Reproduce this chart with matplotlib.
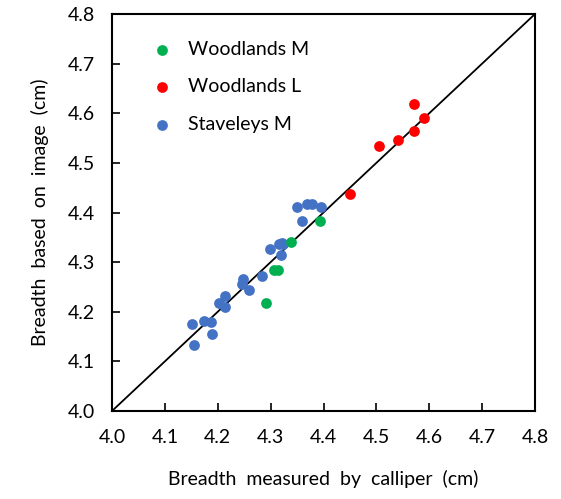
import matplotlib
matplotlib.use("Agg")
import matplotlib.pyplot as plt

plt.rcParams['font.family'] = ['Lato', 'DejaVu Sans']

# Data
wm_x = [4.393, 4.338, 4.307, 4.314, 4.291]
wm_y = [4.383, 4.341, 4.285, 4.285, 4.218]

wl_x = [4.571, 4.590, 4.571, 4.540, 4.505, 4.450]
wl_y = [4.619, 4.590, 4.564, 4.547, 4.535, 4.438]

sm_x = [4.349, 4.369, 4.378, 4.396, 4.360, 4.321, 4.324, 4.316, 4.299, 4.319,
        4.284, 4.248, 4.245, 4.260, 4.214, 4.202, 4.214, 4.151, 4.174, 4.187,
        4.190, 4.155]
sm_y = [4.412, 4.417, 4.417, 4.412, 4.383, 4.339, 4.336, 4.336, 4.327, 4.314,
        4.272, 4.265, 4.256, 4.243, 4.231, 4.218, 4.210, 4.176, 4.181, 4.180,
        4.155, 4.134]

ticks = [4.0, 4.1, 4.2, 4.3, 4.4, 4.5, 4.6, 4.7, 4.8]
tick_labels = ["4.0", "4.1", "4.2", "4.3", "4.4", "4.5", "4.6", "4.7", "4.8"]

fig = plt.figure(figsize=(5.61, 4.99), dpi=100)
ax = fig.add_axes([112/561, 1-411/499, (535-112)/561, (411-14)/499])

ax.plot([4.0, 4.8], [4.0, 4.8], color='black', lw=1.3, zorder=1)
ax.scatter(wm_x, wm_y, s=60, color='#00B050', label='Woodlands M', zorder=3, linewidths=0)
ax.scatter(wl_x, wl_y, s=60, color='#FF0000', label='Woodlands L', zorder=3, linewidths=0)
ax.scatter(sm_x, sm_y, s=60, color='#4472C4', label='Staveleys M', zorder=2, linewidths=0)

ax.set_xlim(4.0, 4.8)
ax.set_ylim(4.0, 4.8)
ax.set_xticks(ticks)
ax.set_xticklabels(tick_labels)
ax.set_yticks(ticks)
ax.set_yticklabels(tick_labels)
ax.tick_params(direction='in', length=6, width=1.2, labelsize=14, colors='black')
ax.tick_params(axis='x', pad=13)
ax.tick_params(axis='y', pad=12)
for s in ax.spines.values():
    s.set_linewidth(1.5)

ax.set_xlabel('Breadth  measured  by  calliper  (cm)', fontsize=14, labelpad=17)
ax.set_ylabel('Breadth  based  on  image  (cm)', fontsize=14, labelpad=14)

ax.legend(loc='upper left', frameon=False, fontsize=14, handletextpad=0.35,
          labelspacing=1.05, bbox_to_anchor=(0.053, 0.952), borderaxespad=0,
          markerscale=1.0)

fig.savefig('out.png', dpi=100)
